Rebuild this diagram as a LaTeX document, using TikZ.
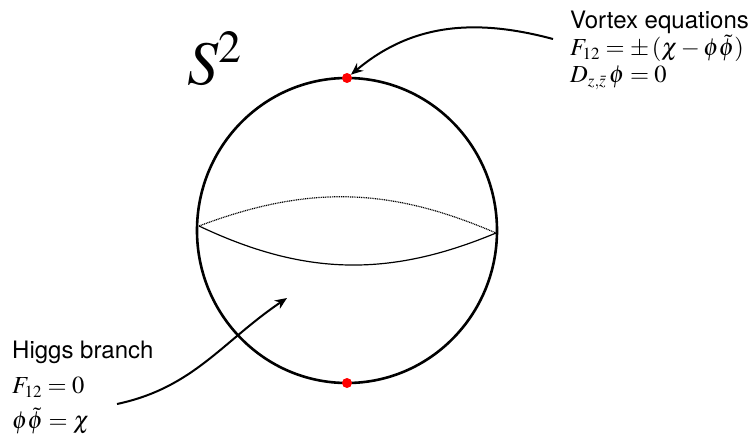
\documentclass[tikz,border=0pt]{standalone}
\usepackage{amsmath}
\usepackage{mathptmx}
\usepackage[no-math]{fontspec}
\setmainfont{TeX Gyre Heros}
\DeclareMathSizes{24}{24.5}{17}{12}
\usetikzlibrary{arrows.meta}

\tikzset{
  sphere/.style={line width=2.6pt},
  equator/.style={line width=1.2pt},
  backline/.style={line width=1.2pt, dash pattern=on 1pt off 0.8pt},
  pointer/.style={-{Stealth[length=12pt,width=10pt]}, line width=2pt},
  pole/.style={circle, fill=red, inner sep=0pt, minimum size=10pt},
  eqblock/.style={anchor=north west, inner sep=0pt, align=left},
}

\begin{document}
\begin{tikzpicture}[x=1pt,y=1pt]
  \useasboundingbox (0,0) rectangle (755,440);
  % sphere and its equator
  \draw[sphere] (347,209.5) ellipse [x radius=150, y radius=152.5];
  \coordinate (eqW) at (199,214);
  \coordinate (eqE) at (496,207);
  \draw[backline] (eqW) to[bend left=22] (eqE);
  \draw[equator] (eqW) to[bend right=24] (eqE);
  \node[pole] (north) at (347,362) {};
  \node[pole] (south) at (347,57) {};
  \node[anchor=base west, inner sep=0pt, font=\fontsize{62}{62}\selectfont] (sphname) at (187,355) {$S^2$};
  % vortex equations at the north pole
  \node[eqblock, font=\fontsize{24}{27}\selectfont] (vortex) at (570,429)
    {Vortex equations\\ $F_{12} = \pm\,(\chi - \phi\tilde{\phi})$\\ $D_{z,\bar{z}}\,\phi = 0$};
  \coordinate (vtail) at (553,401);
  \draw[pointer] (vtail) to[out=165,in=40] (north);
  % Higgs branch
  \node[eqblock, font=\fontsize{24}{35}\selectfont] (higgs) at (12,99)
    {Higgs branch\\ $F_{12} = 0$\\ $\phi\tilde{\phi} = \chi$};
  \coordinate (htail) at (117,36);
  \coordinate (hhead) at (287,142);
  \draw[pointer] (htail) to[out=12,in=214] (hhead);
\end{tikzpicture}
\end{document}
